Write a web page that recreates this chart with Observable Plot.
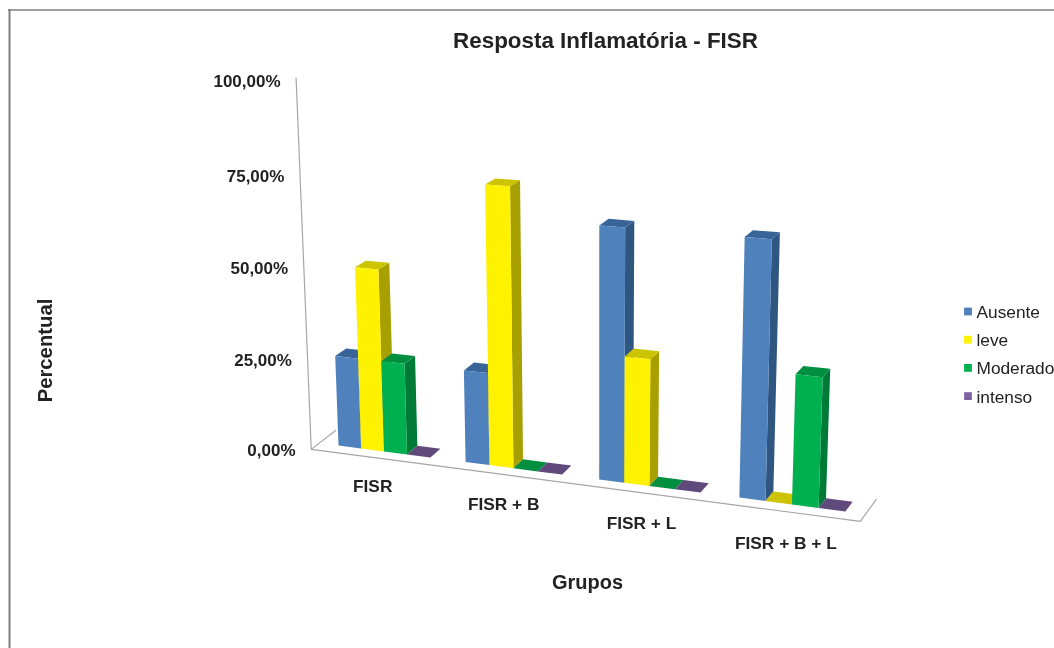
<!DOCTYPE html>
<html>
<head>
<meta charset="utf-8">
<script src="https://cdn.jsdelivr.net/npm/d3@7"></script>
<script src="https://cdn.jsdelivr.net/npm/@observablehq/plot@0.6"></script>
<style>
html,body{margin:0;padding:0;background:#fff;overflow:hidden}
svg{display:block;filter:blur(0.4px)}
</style>
</head>
<body>
<div id="chart"></div>
<script>
const title = "Resposta Inflamatória - FISR";
const xTitle = "Grupos";
const yTitle = "Percentual";
const groups = ["FISR", "FISR + B", "FISR + L", "FISR + B + L"];
const seriesNames = ["Ausente", "leve", "Moderado", "intenso"];
const ausente = [25, 25, 66.67, 66.67];
const leve = [50, 75, 33.33, 0];
const moderado = [25, 0, 0, 33.33];
const intenso = [0, 0, 0, 0];
const seriesValues = [ausente, leve, moderado, intenso];
const tickValues = [0, 25, 50, 75, 100];
const tickLabels = ["0,00%", "25,00%", "50,00%", "75,00%", "100,00%"];
const frontColors = ["#4f81bd", "#fff200", "#00b050", "#8064a2"];
const sideColors = ["#2f5581", "#a8a000", "#007a37", "#574370"];
const topColors = ["#386497", "#ccc400", "#008f3f", "#604a7b"];

// Perspective camera of the 3-D chart: t runs along the category axis
// (5.5 units per group), d through the depth of a bar, v up the value axis.
function project(t, d, v) {
  const x0 = 321.2 + 22.35 * t + 0.108 * t * t;
  const y0 = 445 + 0.13 * (x0 - 338);
  const bx = x0 + d * (10.8 - 0.007 * (x0 - 338));
  const by = y0 + d * (-8.5 - 0.0025 * (x0 - 338));
  const k = 3.66 + 0.0007 * (bx - 500) + 0.0012 * v - 0.045 * d;
  const h = v * k;
  return [bx + h * (bx - 597) / 7000, by - h];
}

const groupWidth = 5.5, firstOffset = 0.75, axisEnd = 22, frameFront = -0.75, frameBack = 1.5;

const facePoints = [];
function addFace(id, color, corners) {
  for (const [t, d, v] of corners) {
    const [x, y] = project(t, d, v);
    facePoints.push({id, color, x, y});
  }
}
groups.forEach((g, i) => {
  seriesNames.forEach((s, j) => {
    const v = seriesValues[j][i];
    const t0 = firstOffset + groupWidth * i + j, t1 = t0 + 1;
    if (v > 0) addFace(`${g}-${s}-side`, sideColors[j], [[t1,0,0],[t1,1,0],[t1,1,v],[t1,0,v]]);
    addFace(`${g}-${s}-top`, topColors[j], [[t0,0,v],[t1,0,v],[t1,1,v],[t0,1,v]]);
    if (v > 0) addFace(`${g}-${s}-front`, frontColors[j], [[t0,0,0],[t1,0,0],[t1,0,v],[t0,0,v]]);
  });
});

const framePath = [[-0.1,frameBack,0],[-0.1,frameFront,0],[axisEnd,frameFront,0],[axisEnd,frameBack,0]]
  .map(p => project(...p));
const wallPath = [[-0.1,frameFront,0],[-0.1,frameFront,100.8]].map(p => project(...p));
const ink = "#222222";
const font = "Liberation Sans";

const ticks = tickValues.map((v, i) => {
  const [x, y] = project(0, frameFront, v);
  return {x, y, label: tickLabels[i]};
});
const catLabels = groups.map((g, i) => {
  const [x, y] = project(firstOffset + 5.57 * i + 1.9, 0, 0);
  return {x, y: y + (i - 1.5) * 1.2, label: g};
});
const legend = seriesNames.map((s, i) => ({label: s, color: frontColors[i], y: 311 + 28.2 * i}));

const chart = Plot.plot({
  width: 1054, height: 648, margin: 0,
  x: {domain: [0, 1054], range: [0, 1054], axis: null},
  y: {domain: [0, 648], range: [0, 648], axis: null},
  marks: [
    Plot.ruleX([9], {y1: 9, y2: 648, stroke: "#808080", strokeWidth: 2}),
    Plot.ruleY([9.5], {x1: 8, x2: 1054, stroke: "#808080", strokeWidth: 1.5}),
    Plot.line(framePath, {x: d => d[0], y: d => d[1], stroke: "#a6a6a6", strokeWidth: 1.2}),
    Plot.line(wallPath, {x: d => d[0], y: d => d[1], stroke: "#a6a6a6", strokeWidth: 1.2}),
    Plot.line(facePoints, {x: "x", y: "y", z: "id", fill: "color", stroke: "none", curve: "linear-closed"}),
    Plot.text(ticks, {x: "x", y: "y", text: "label", dx: -18, dy: 0.5, textAnchor: "end", fontFamily: font, fontWeight: "bold", fontSize: 17, fill: ink}),
    Plot.text(catLabels, {x: "x", y: "y", text: "label", dx: -9, dy: 37, fontFamily: font, fontWeight: "bold", fontSize: 17.3, fill: ink}),
    Plot.text([title], {x: () => 605, y: () => 40, text: d => d, fontFamily: font, fontWeight: "bold", fontSize: 22.4, fill: ink}),
    Plot.text([xTitle], {x: () => 587, y: () => 582, text: d => d, fontFamily: font, fontWeight: "bold", fontSize: 20, fill: ink}),
    Plot.text([yTitle], {x: () => 45, y: () => 350, text: d => d, rotate: -90, fontFamily: font, fontWeight: "bold", fontSize: 20.3, fill: ink}),
    Plot.dot(legend, {x: () => 967.5, y: "y", symbol: "square", r: 4.4, fill: "color", stroke: "none"}),
    Plot.text(legend, {x: () => 976, y: "y", dy: 1, text: "label", textAnchor: "start", fontFamily: font, fontSize: 17.3, fill: ink})
  ]
});
document.getElementById("chart").append(chart);
</script>
</body>
</html>
